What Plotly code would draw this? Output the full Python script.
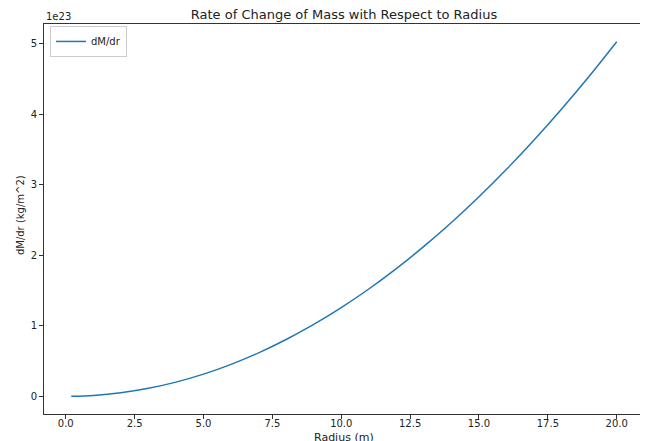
import plotly.graph_objects as go

# Radius (m)
radius = [0.2, 1, 2, 3, 4, 5, 6, 7, 8, 9, 10, 11, 12, 13, 14, 15, 16, 17, 18, 19, 20]
# dM/dr (kg/m^2)
dmdr = [0.0005e23, 0.0126e23, 0.050e23, 0.113e23, 0.201e23, 0.314e23, 0.453e23, 0.616e23,
        0.805e23, 1.019e23, 1.258e23, 1.522e23, 1.811e23, 2.126e23, 2.465e23, 2.830e23,
        3.220e23, 3.635e23, 4.075e23, 4.540e23, 5.030e23]

x_ticks = [0.0, 2.5, 5.0, 7.5, 10.0, 12.5, 15.0, 17.5, 20.0]
x_labels = ["0.0", "2.5", "5.0", "7.5", "10.0", "12.5", "15.0", "17.5", "20.0"]
y_ticks = [0, 1e23, 2e23, 3e23, 4e23, 5e23]
y_labels = ["0", "1", "2", "3", "4", "5"]

font = "DejaVu Sans, Liberation Sans, sans-serif"

fig = go.Figure()
fig.add_trace(go.Scatter(x=radius, y=dmdr, mode="lines", name="dM/dr",
                         line=dict(color="#1f77b4", width=1.5, shape="spline")))

axis_common = dict(showline=True, mirror=True, linecolor="#333333", linewidth=1,
                   ticks="outside", ticklen=4, tickcolor="#333333", showgrid=False,
                   zeroline=False, automargin=False,
                   tickfont=dict(size=10, color="#222222", family=font))

fig.update_layout(
    width=648, height=441,
    paper_bgcolor="white", plot_bgcolor="white",
    margin=dict(l=36, r=12, t=16, b=35, autoexpand=False),
    font=dict(family=font, color="#222222"),
    title=dict(text="Rate of Change of Mass with Respect to Radius", x=0.5, xanchor="center",
               xref="paper", y=0.995, yanchor="top", automargin=False,
               font=dict(size=13, family=font)),
    xaxis=dict(range=[-0.79, 20.99], tickvals=x_ticks, ticktext=x_labels, ticklabelstandoff=-4,
               **axis_common),
    yaxis=dict(range=[-0.2515e23, 5.2815e23], tickvals=y_ticks, ticktext=y_labels,
               **axis_common),
    showlegend=True,
    legend=dict(x=0.01, y=0.995, xanchor="left", yanchor="top", bordercolor="#cccccc",
                borderwidth=1, bgcolor="rgba(255,255,255,0.8)", font=dict(size=10),
                itemwidth=30),
    annotations=[
        dict(text="1e23", xref="paper", yref="paper", x=0, y=1, xanchor="left",
             yanchor="bottom", showarrow=False, font=dict(size=10, family=font)),
        dict(text="Radius (m)", xref="paper", yref="paper", x=0.5, y=0, xanchor="center",
             yanchor="middle", yshift=-23, showarrow=False, font=dict(size=11, family=font)),
        dict(text="dM/dr (kg/m^2)", xref="paper", yref="paper", x=0, y=0.51, xanchor="center",
             yanchor="middle", xshift=-24, textangle=-90, showarrow=False,
             font=dict(size=10, family=font)),
    ],
)

fig.write_html("out.html")
